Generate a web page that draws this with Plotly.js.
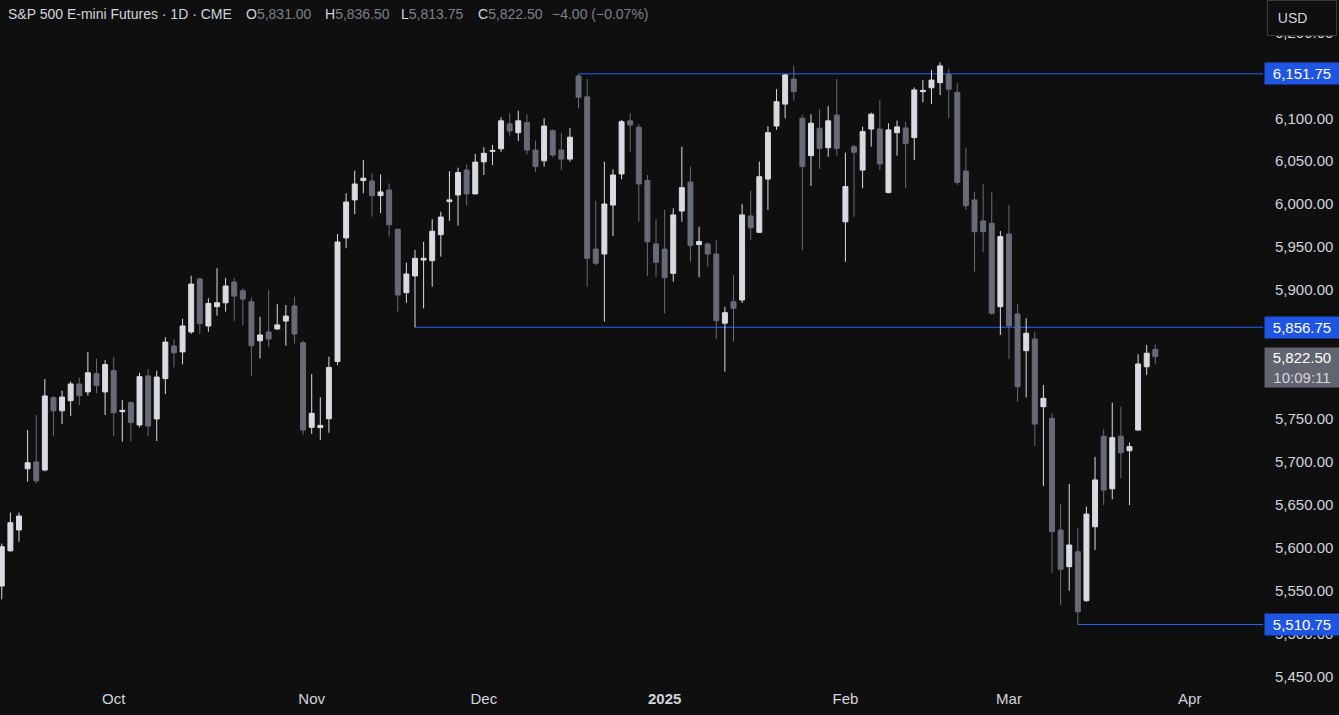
<!DOCTYPE html>
<html>
<head>
<meta charset="utf-8">
<script src="https://cdn.plot.ly/plotly-3.0.1.min.js"></script>
<style>
html,body{margin:0;padding:0;background:#0f0f0f;overflow:hidden}
#chart{width:1339px;height:715px}
</style>
</head>
<body>
<div id="chart"></div>
<script>
// ---- Data ----
const dates = [
 '2024-09-12','2024-09-13','2024-09-16','2024-09-17','2024-09-18','2024-09-19','2024-09-20','2024-09-23','2024-09-24','2024-09-25','2024-09-26','2024-09-27','2024-09-30',
 '2024-10-01','2024-10-02','2024-10-03','2024-10-04','2024-10-07','2024-10-08','2024-10-09','2024-10-10','2024-10-11','2024-10-14','2024-10-15','2024-10-16','2024-10-17','2024-10-18','2024-10-21','2024-10-22','2024-10-23','2024-10-24','2024-10-25','2024-10-28','2024-10-29','2024-10-30','2024-10-31',
 '2024-11-01','2024-11-04','2024-11-05','2024-11-06','2024-11-07','2024-11-08','2024-11-11','2024-11-12','2024-11-13','2024-11-14','2024-11-15','2024-11-18','2024-11-19','2024-11-20','2024-11-21','2024-11-22','2024-11-25','2024-11-26','2024-11-27','2024-11-29',
 '2024-12-02','2024-12-03','2024-12-04','2024-12-05','2024-12-06','2024-12-09','2024-12-10','2024-12-11','2024-12-12','2024-12-13','2024-12-16','2024-12-17','2024-12-18','2024-12-19','2024-12-20','2024-12-23','2024-12-24','2024-12-26','2024-12-27','2024-12-30','2024-12-31',
 '2025-01-02','2025-01-03','2025-01-06','2025-01-07','2025-01-08','2025-01-09','2025-01-10','2025-01-13','2025-01-14','2025-01-15','2025-01-16','2025-01-17','2025-01-21','2025-01-22','2025-01-23','2025-01-24','2025-01-27','2025-01-28','2025-01-29','2025-01-30','2025-01-31',
 '2025-02-03','2025-02-04','2025-02-05','2025-02-06','2025-02-07','2025-02-10','2025-02-11','2025-02-12','2025-02-13','2025-02-14','2025-02-18','2025-02-19','2025-02-20','2025-02-21','2025-02-24','2025-02-25','2025-02-26','2025-02-27','2025-02-28',
 '2025-03-03','2025-03-04','2025-03-05','2025-03-06','2025-03-07','2025-03-10','2025-03-11','2025-03-12','2025-03-13','2025-03-14','2025-03-17','2025-03-18','2025-03-19','2025-03-20','2025-03-21','2025-03-24','2025-03-25','2025-03-26'
];
const open = [
 5555.5,5596.5,5620.75,5692,5700,5690.5,5774.75,5759.5,5771.25,5790.75,5781.5,5802.75,5781.5,
 5806.25,5758.5,5769,5743,5800,5750,5797,5835,5828,5851.25,5913,5858.25,5880.75,5885.25,5909.5,5899.25,5886.5,5841,5851.25,5854.75,5864,5881.5,5838.75,
 5740.25,5740,5750.25,5817,5960.75,6005,6027.5,6027,6010,6016.5,5970.75,5897,5916.5,5935,5934.25,5964.5,6003,6010.75,6039.75,6012,
 6049.25,6061.5,6064.5,6093.5,6083.25,6095,6063,6050.5,6085.5,6063,6052.5,6149.25,6125,5947.75,5942,5999,6035.25,6097,6089.5,6027.5,5953.75,
 5947.75,5919.5,5992,6025.75,5953,5953.75,5942,5861.5,5886.5,5888.5,5986.25,5967.25,6029.25,6091,6116.5,6145.75,6100,6056.5,6088.5,6065.75,6103.75,
 5979.5,6067,6039.75,6087.5,6087.5,6013.5,6083.25,6088.75,6077.5,6131,6135.5,6141.5,6151.25,6130.25,6038.5,6005,5980.5,5977.75,5880.75,
 5965.25,5872.25,5829.5,5843,5764.25,5750.75,5620.75,5578,5595.5,5538.5,5624.5,5730,5668.75,5730,5713,5737,5810.75,5831
];
const high = [
 5605,5641,5641,5737,5754.5,5796.5,5776.5,5783,5793.5,5798,5828,5820,5818.5,
 5821.75,5772,5770.5,5803.75,5807.75,5806.25,5845,5842.75,5866.5,5916.75,5914.5,5890.5,5925.5,5914,5914,5902,5891.5,5869,5900,5883.5,5882.75,5892.25,5841,
 5802.25,5775.25,5822.5,5965.25,6012.75,6039,6051.5,6036,6034.75,6024.25,5972,5932,5946.75,5956.25,5982.5,5991.25,6038.5,6042.5,6046.5,6058.5,
 6066.25,6069,6101.25,6105.75,6108.75,6104.75,6074,6100,6087,6083.25,6088.5,6151.75,6145.75,6004,6049.5,6040.5,6098,6105.75,6093.5,6034,5982.5,
 5993.25,5995.25,6067,6043.75,5973.75,5955,5958.25,5880.75,5917.5,6000,6015.75,6049.5,6091,6134,6151.5,6161,6104,6104.75,6110.5,6114.25,6145.75,
 6060,6069,6090.25,6106.5,6121.25,6094.25,6097.25,6096,6136,6144.5,6156.25,6165.25,6157.5,6140.75,6065.75,6014.5,6023.25,6014,5968.75,
 5999,5883.5,5867.25,5851.5,5789.5,5756.5,5651,5674.25,5622.75,5648,5706,5738,5769,5764.25,5722.5,5825.25,5836,5836.5
];
const low = [
 5540,5595.5,5607,5677,5675,5689,5730,5744,5753.5,5766,5777,5780,5754.5,
 5730,5723.5,5724,5740.25,5730,5724.25,5779,5810,5813.5,5849,5849,5851.5,5870.25,5875,5864,5859,5800,5820.5,5834,5854,5835.25,5838,5731.25,
 5732.5,5725.5,5734,5812.75,5948.75,5988.5,6012.75,5985.5,5989.5,5962.25,5875,5885.25,5856.75,5878.75,5904,5939,5980.5,5975,5998.25,6011.5,
 6034,6045.5,6061,6079.75,6073.5,6058,6037.75,6043.75,6054.5,6039.75,6049.5,6111.5,5904,5929,5863.25,5963,6029,6061,5979.5,5916.5,5915,
 5873,5909.75,5979.5,5933,5915,5927.25,5842.75,5805,5840,5885,5958.25,5966.75,5993.25,6086.5,6100,6120.5,5946.75,6021.25,6041,6055.25,6056.5,
 5933,5985.5,6018.5,6067,6039.75,6012.75,6056.5,6018.5,6051.5,6118.5,6116.5,6127,6100,6022.5,5993.25,5921.5,5944,5871,5847.75,
 5819.75,5770,5775,5718.5,5672,5571,5533.5,5550,5510.75,5537,5597.5,5649.75,5656.5,5681,5649.75,5737,5801.25,5813.75
];
const close = [
 5601.25,5629.25,5637,5699,5678,5776.75,5759.5,5775.5,5790.75,5777,5803.75,5788.75,5813.25,
 5757.25,5760,5746,5799.25,5741.75,5798.75,5839.5,5827,5858.25,5907,5861,5884.5,5885.25,5904.75,5893,5889.5,5835.25,5847.75,5843,5859.5,5869.75,5849,5737,
 5756.5,5742.5,5810,5956,6002.5,6023.5,6030.25,6010,6014.25,5976,5894.25,5918.75,5937,5937,5968.5,5985,6005,6036.75,6012,6049,
 6059.25,6062.5,6097,6085.25,6097,6063,6043.75,6091,6057.25,6052.5,6078,6124.5,5937,5931.25,6000.25,6034,6096,6092.25,6023.5,5956.25,5932.5,
 5914.5,5987.5,6019.25,5951.75,5956.5,5942,5864.5,5873.75,5878.75,5987.5,5972.5,6032,6083.25,6119.25,6150.5,6131,6043.75,6094.25,6065,6097,6065,
 6020.5,6060.5,6084.5,6104.75,6046.75,6086.5,6090,6070.5,6133,6132.5,6144.5,6161,6133.75,6025.5,5998.25,5968,5968,5873,5962.25,
 5858.5,5787.5,5849.75,5744,5774,5618.75,5575,5603.25,5525.5,5639.25,5679,5667.25,5728.25,5710.75,5717.75,5814,5826.5,5822.5
];
const holidays = ['2024-11-28','2024-12-25','2025-01-01','2025-01-20','2025-02-17'];
const monthTickDates = ['2024-10-01','2024-11-01','2024-12-02','2025-01-02','2025-02-03','2025-03-03','2025-04-01'];
const monthTickText = ['Oct','Nov','Dec','<b>2025</b>','Feb','Mar','Apr'];
// price-scale labels (5,800 and 5,850 sit fully under the price boxes in the reference)
const priceTicks = [5450,5500,5550,5600,5650,5700,5750,5900,5950,6000,6050,6100,6200];
const levels = [6151.75, 5856.75, 5510.75];
const levelStartDates = ['2024-12-17','2024-11-19','2025-03-13'];
const countdown = '10:09:11';
const titleText = 'S&P 500 E-mini Futures · 1D · CME';

// ---- Helpers ----
const noon = d => d + ' 12:00';
const fmt = v => v.toLocaleString('en-US',{minimumFractionDigits:2, maximumFractionDigits:2});
const W = 1263, H = 688;          // plot area in px
const px = v => v / W;
const py = v => 1 - v / H;

const UP = '#dadbe0', DOWN = '#686b75';
const TXT = '#d1d4dc', GREY = '#7d8089';
const BLUE_LINE = '#2962ff', BLUE_BOX = '#1f55e3', PRICE_BOX = '#62656f';

const trace = {
  type: 'candlestick',
  x: dates.map(noon), open: open, high: high, low: low, close: close,
  increasing: {line: {color: UP, width: 1}, fillcolor: UP},
  decreasing: {line: {color: DOWN, width: 1}, fillcolor: DOWN},
  whiskerwidth: 0,
  hoverinfo: 'skip',
  showlegend: false
};

const n = close.length;
const last = n - 1;
const chg = close[last] - close[last - 1];
const pct = chg / close[last - 1] * 100;
const minus = '\u2212';
const sgn = v => (v < 0 ? minus : '+') + Math.abs(v).toFixed(2);

const headerY = py(14);
const HF = 14;
const hdr = (x, text, color) => ({xref:'paper', yref:'paper', x:px(x), y:headerY, xanchor:'left', yanchor:'middle',
  showarrow:false, text:text, font:{color:color, size:HF}});
const annotations = [
  hdr(6, titleText, TXT),
  hdr(244, 'O<span style="color:' + GREY + '">' + fmt(open[last]) + '</span>', TXT),
  hdr(323, 'H<span style="color:' + GREY + '">' + fmt(high[last]) + '</span>', TXT),
  hdr(399, 'L<span style="color:' + GREY + '">' + fmt(low[last]) + '</span>', TXT),
  hdr(476, 'C<span style="color:' + GREY + '">' + fmt(close[last]) + '</span>', TXT),
  hdr(550, sgn(chg) + ' (' + sgn(pct) + '%)', GREY),
  // USD box
  {xref:'paper', yref:'paper', x:px(1267), y:1, xanchor:'left', yanchor:'top', showarrow:false,
   text:'\u00a0\u00a0USD', align:'left', width:64, height:30, borderpad:2, bgcolor:'#0f0f0f', bordercolor:'#3a3a3a', borderwidth:1,
   font:{color:TXT, size:14}},
  // current price box
  {xref:'paper', yref:'y', x:px(1264), y:5810, xanchor:'left', yanchor:'middle', showarrow:false,
   text: fmt(close[last]) + '<br><span style="color:#d1d4dc">' + countdown + '</span>',
   align:'center', width:72, height:37, borderpad:1, bgcolor:PRICE_BOX, font:{color:'#ffffff', size:15}}
];
levels.forEach(l => {
  annotations.push({xref:'paper', yref:'y', x:px(1264), y:l, xanchor:'left', yanchor:'middle', showarrow:false,
    text: fmt(l), align:'center', width:72, height:19, borderpad:1, bgcolor:BLUE_BOX, font:{color:'#ffffff', size:15}});
});

const shapes = levels.map((l, i) => ({
  type:'line', xref:'x', yref:'y', x0: noon(levelStartDates[i]), x1:'2025-06-30', y0:l, y1:l,
  line:{color:BLUE_LINE, width:1}, layer:'below'
}));

const layout = {
  width:1339, height:715,
  paper_bgcolor:'#0f0f0f', plot_bgcolor:'#0f0f0f',
  margin:{l:0, r:76, t:0, b:27},
  showlegend:false,
  boxgap:0.18,
  font:{family:'"Liberation Sans", Arial, sans-serif', color:TXT, size:15},
  xaxis:{
    type:'date',
    range:['2024-09-12 07:00','2025-04-14 00:15'],
    rangeslider:{visible:false},
    rangebreaks:[{bounds:['sat','mon']},{values:holidays}],
    tickvals: monthTickDates.map(noon), ticktext: monthTickText,
    showgrid:false, zeroline:false, showline:false, ticks:'',
    tickfont:{color:TXT, size:15}
  },
  yaxis:{
    side:'right', range:[5436.8, 6237.7],
    tickmode:'array', tickvals: priceTicks, ticktext: priceTicks.map(fmt),
    showgrid:false, zeroline:false, showline:false,
    ticks:'outside', ticklen:8, tickcolor:'rgba(0,0,0,0)',
    tickfont:{color:TXT, size:15}
  },
  shapes: shapes,
  annotations: annotations,
  hovermode:false
};

Plotly.newPlot('chart', [trace], layout, {displayModeBar:false, staticPlot:true});
</script>
</body>
</html>
